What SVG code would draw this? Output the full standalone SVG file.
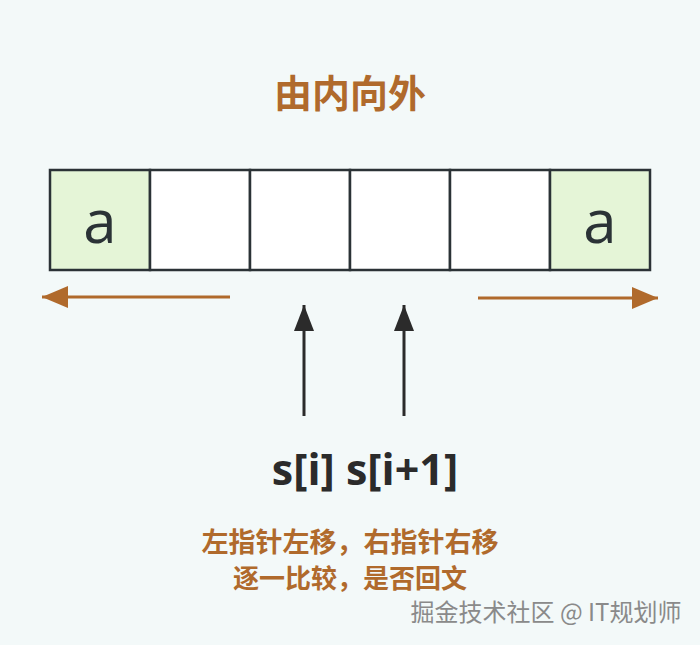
<svg xmlns="http://www.w3.org/2000/svg" width="700" height="645" viewBox="0 0 700 645">
<style>
.cell{fill:#ffffff;stroke:#2b3236;stroke-width:2.5}
.green{fill:#e5f5d7}
.a{font-family:"Open Sans","Noto Sans",sans-serif;font-size:60px;fill:#2b3236;text-anchor:middle}
.orange{fill:#b06a2c;font-family:"Noto Sans CJK SC",sans-serif;font-weight:bold;text-anchor:middle}
</style>
<defs>
<marker id="ao" markerWidth="26" markerHeight="22" refX="26" refY="11" orient="auto" markerUnits="userSpaceOnUse" viewBox="0 0 26 22"><path d="M0,0 L26,11 L0,22 Z" fill="#b06a2c"/></marker>
<marker id="ad" markerWidth="26" markerHeight="20" refX="26" refY="10" orient="auto" markerUnits="userSpaceOnUse" viewBox="0 0 26 20"><path d="M0,0 L26,10 L0,20 Z" fill="#2b2b2b"/></marker>
</defs>
<rect width="700" height="645" fill="#f3f9f9"/>
<text x="350" y="107" class="orange" font-size="38">由内向外</text>
<g id="cell0"><rect x="50" y="170" width="100" height="100" class="cell green"/><text x="100" y="243" class="a">a</text></g>
<g id="cell1"><rect x="150" y="170" width="100" height="100" class="cell"/></g>
<g id="cell2"><rect x="250" y="170" width="100" height="100" class="cell"/></g>
<g id="cell3"><rect x="350" y="170" width="100" height="100" class="cell"/></g>
<g id="cell4"><rect x="450" y="170" width="100" height="100" class="cell"/></g>
<g id="cell5"><rect x="550" y="170" width="100" height="100" class="cell green"/><text x="600" y="243" class="a">a</text></g>
<g id="connectors">
<line x1="230" y1="297" x2="42" y2="297" stroke="#b06a2c" stroke-width="3" marker-end="url(#ao)"/>
<line x1="478" y1="298" x2="658" y2="298" stroke="#b06a2c" stroke-width="3" marker-end="url(#ao)"/>
<line x1="304" y1="416" x2="304" y2="305" stroke="#2b2b2b" stroke-width="3" marker-end="url(#ad)"/>
<line x1="404" y1="416" x2="404" y2="305" stroke="#2b2b2b" stroke-width="3" marker-end="url(#ad)"/>
</g>
<text x="365" y="485" font-family="Open Sans,Noto Sans,sans-serif" font-weight="bold" font-size="43" fill="#2b2b2b" text-anchor="middle">s[i] s[i+1]</text>
<text x="350" y="552" class="orange" font-size="27">左指针左移，右指针右移</text>
<text x="350" y="588" class="orange" font-size="26">逐一比较，是否回文</text>
<text x="546" y="621" font-family="Noto Sans CJK SC,sans-serif" font-size="24" fill="#8a8a8a" text-anchor="middle">掘金技术社区 @ IT规划师</text>
</svg>
